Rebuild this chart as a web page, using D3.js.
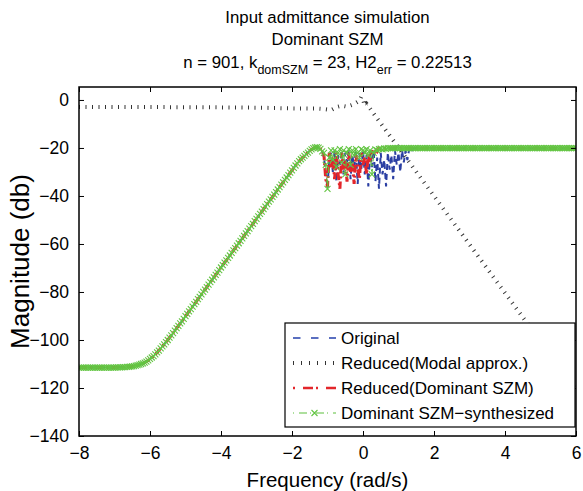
<!DOCTYPE html>
<html lang="en">
  <head>
    <meta charset="UTF-8" />
    <title>Input admittance simulation</title>
    <script src="https://cdn.jsdelivr.net/npm/d3@7"></script>
    <style>
      body { margin: 0; background: #fff; }
      svg { font-family: "Liberation Sans", Arial, sans-serif; }
    </style>
  </head>
  <body>
    <script>
      // frequency grid: log10(w) from -8 to 6, step 0.05 (281 samples)
      const freq = d3.range(0, 281).map(i => -8 + i * 0.05);

      // shared response, -8 ... -1.15
      const magLow = [
        -111.5, -111.5, -111.5, -111.5, -111.5, -111.5, -111.5, -111.5, -111.5, -111.5,
        -111.5, -111.5, -111.5, -111.5, -111.5, -111.5, -111.5, -111.5, -111.5, -111.5,
        -111.5,
        -111.4, -111.4, -111.4, -111.4, -111.3, -111.3, -111.2, -111.2, -111.1, -111.0,
        -110.9, -110.7, -110.5, -110.3, -110.0, -109.7, -109.4, -109.0, -108.5,
        -107.9, -107.3, -106.7, -106.0, -105.2, -104.4, -103.5, -102.7, -101.8, -100.9,
        -100.0, -99.0, -98.1, -97.1, -96.1, -95.1, -94.1, -93.1, -92.2, -91.2,
        -90.1, -89.1, -88.1, -87.1, -86.1, -85.1, -84.1, -83.0, -82.0, -81.0,
        -80.0, -79.0, -78.0, -76.9, -75.9, -74.9, -73.9, -72.9, -71.9, -70.9,
        -69.8, -68.8, -67.8, -66.8, -65.8, -64.8, -63.7, -62.7, -61.7, -60.7,
        -59.7, -58.7, -57.7, -56.6, -55.6, -54.6, -53.6, -52.6, -51.6, -50.5,
        -49.5, -48.5, -47.5, -46.5, -45.5, -44.4, -43.4, -42.4, -41.4, -40.4,
        -39.4, -38.4, -37.3, -36.3, -35.3, -34.3, -33.3, -32.3, -31.3, -30.3,
        -29.3, -28.3, -27.3, -26.4, -25.5, -24.7, -24.0, -23.3, -22.6, -21.9,
        -21.2, -20.6, -20.1, -19.8, -19.7, -19.9, -20.4, -21.4
      ];

      // noisy band, -1.1 ... 1.4
      const magOrigMid = [
        -24, -30, -37, -24, -22, -30, -21, -34, -23, -27,
        -21, -31, -22, -26, -21, -33, -23, -28, -21, -35,
        -22, -29, -21, -31, -23, -36, -22, -28, -21, -34,
        -24, -37, -22, -31, -25, -36, -22, -29, -23, -33,
        -21, -27, -22, -30, -21, -26, -21, -25, -20.5, -22,
        -20.3
      ];
      const magSzmMid = [
        -23, -33, -36, -22, -28, -24, -33, -22, -31, -37,
        -22, -29, -25, -34, -22, -30, -26, -35, -23, -28,
        -33, -22, -27, -24, -31, -22, -26, -21, -23, -20.5,
        -21.5, -20.3, -20.2, -20.2, -20.1, -20.1, -20.1, -20.1, -20.1, -20.1,
        -20.1, -20.1, -20.1, -20.1, -20.1, -20.1, -20.1, -20.1, -20.1, -20.1,
        -20.1
      ];
      const magSynthMid = [
        -22, -27, -37, -24, -21, -25, -21, -28, -22, -20.5,
        -26, -21, -31, -22, -20.5, -27, -21, -23, -20.5, -22,
        -24, -20.5, -21, -22, -20.5, -23, -21, -31, -22, -20.6,
        -21, -20.5, -20.3, -20.6, -20.2, -20.4, -20.1, -20.1, -20.1, -20.1,
        -20.1, -20.1, -20.1, -20.1, -20.1, -20.1, -20.1, -20.1, -20.1, -20.1,
        -20.1
      ];

      // shared response, 1.45 ... 6
      const magHigh = [
        -20.1, -20.1, -20.1, -20.1, -20.1, -20.1, -20.1, -20.1, -20.1, -20.1,
        -20.1, -20.1, -20.1, -20.1, -20.1, -20.1, -20.1, -20.1, -20.1, -20.1,
        -20.1, -20.1, -20.1, -20.1, -20.1, -20.1, -20.1, -20.1, -20.1, -20.1,
        -20.1, -20.1, -20.1, -20.1, -20.1, -20.1, -20.1, -20.1, -20.1, -20.1,
        -20.1, -20.1, -20.1, -20.1, -20.1, -20.1, -20.1, -20.1, -20.1, -20.1,
        -20.1, -20.1, -20.1, -20.1, -20.1, -20.1, -20.1, -20.1, -20.1, -20.1,
        -20.1, -20.1, -20.1, -20.1, -20.1, -20.1, -20.1, -20.1, -20.1, -20.1,
        -20.1, -20.1, -20.1, -20.1, -20.1, -20.1, -20.1, -20.1, -20.1, -20.1,
        -20.1, -20.1, -20.1, -20.1, -20.1, -20.1, -20.1, -20.1, -20.1, -20.1,
        -20.1, -20.1
      ];

      // modal approximation
      const modalFreq = [-8, -5, -3, -2, -1.3, -1.1, -0.9, -0.75, -0.6, -0.45, -0.3, -0.2, -0.1, -0.05, 0, 0.05, 0.1, 0.2, 0.4, 6];
      const modalMag = [-2.9, -3.0, -3.2, -3.5, -3.6, -3.8, -4.2, -3.0, -2.4, -2.8, -2.0, -1.2, -0.3, 1.3, 0.2, -2.4, -1.6, -3.6, -7.7, -120.8];

      const seriesNames = [
        "Original",
        "Reduced(Modal approx.)",
        "Reduced(Dominant SZM)",
        "Dominant SZM\u2212synthesized"
      ];
      const xTicks = [-8, -6, -4, -2, 0, 2, 4, 6];
      const yTicks = [-140, -120, -100, -80, -60, -40, -20, 0];

      const width = 583;
      const height = 491;
      const margin = { left: 79, right: 7, top: 87, bottom: 55 };

      const x = d3.scaleLinear().domain([-8, 6]).range([margin.left, width - margin.right]);
      const y = d3.scaleLinear().domain([-140, 5.4]).range([height - margin.bottom, margin.top]);

      const toPts = (xs, ys) => xs.map((v, i) => [v, ys[i]]);
      const original = toPts(freq, magLow.concat(magOrigMid, magHigh));
      const reducedSzm = toPts(freq, magLow.concat(magSzmMid, magHigh));
      const synth = toPts(freq, magLow.concat(magSynthMid, magHigh));
      const modal = toPts(modalFreq, modalMag);

      const svg = d3.select("body").append("svg")
        .attr("width", width)
        .attr("height", height);

      svg.append("defs").append("clipPath").attr("id", "clip")
        .append("rect")
        .attr("x", margin.left).attr("y", margin.top)
        .attr("width", x(6) - x(-8)).attr("height", y(-140) - y(5.4));

      const line = d3.line().x(d => x(d[0])).y(d => y(d[1]));
      const plot = svg.append("g").attr("clip-path", "url(#clip)");

      plot.append("path").datum(original)
        .attr("d", line).attr("fill", "none")
        .attr("stroke", "#2b3fa3").attr("stroke-width", 2)
        .attr("stroke-dasharray", "6,4");

      plot.append("path").datum(modal)
        .attr("d", line).attr("fill", "none")
        .attr("stroke", "#333").attr("stroke-width", 4)
        .attr("stroke-dasharray", "1,5.5");

      plot.append("path").datum(reducedSzm)
        .attr("d", line).attr("fill", "none")
        .attr("stroke", "#e3262b").attr("stroke-width", 3)
        .attr("stroke-dasharray", "8,3,2,3");

      plot.append("path").datum(synth)
        .attr("d", line).attr("fill", "none")
        .attr("stroke", "#5cbf3c").attr("stroke-width", 1.2)
        .attr("stroke-dasharray", "6,3,1.5,3");

      const xMark = "M-3,-3L3,3M-3,3L3,-3";
      plot.append("g").selectAll("path")
        .data(synth)
        .join("path")
        .attr("transform", d => `translate(${x(d[0])},${y(d[1])})`)
        .attr("d", xMark)
        .attr("fill", "none")
        .attr("stroke", "#63c543")
        .attr("stroke-width", 1.1);

      // axes box with inward ticks on all sides
      const tickLen = 5;
      const fmt = d => d < 0 ? "\u2212" + Math.abs(d) : d;
      svg.append("g")
        .attr("transform", `translate(0,${y(-140)})`)
        .call(d3.axisBottom(x).tickValues(xTicks).tickSizeInner(-tickLen).tickSizeOuter(0)
          .tickPadding(11).tickFormat(fmt))
        .call(g => g.select(".domain").remove())
        .call(g => g.selectAll("text").attr("font-size", 17.5).attr("fill", "#000").attr("font-family", null));
      svg.append("g")
        .attr("transform", `translate(0,${y(5.4)})`)
        .call(d3.axisTop(x).tickValues(xTicks).tickSizeInner(-tickLen).tickSizeOuter(0).tickFormat(""))
        .call(g => g.select(".domain").remove());
      svg.append("g")
        .attr("transform", `translate(${x(-8)},0)`)
        .call(d3.axisLeft(y).tickValues(yTicks).tickSizeInner(-tickLen).tickSizeOuter(0)
          .tickPadding(10).tickFormat(fmt))
        .call(g => g.select(".domain").remove())
        .call(g => g.selectAll("text").attr("font-size", 17.5).attr("fill", "#000").attr("font-family", null));
      svg.append("g")
        .attr("transform", `translate(${x(6)},0)`)
        .call(d3.axisRight(y).tickValues(yTicks).tickSizeInner(-tickLen).tickSizeOuter(0).tickFormat(""))
        .call(g => g.select(".domain").remove());

      svg.append("rect")
        .attr("x", x(-8)).attr("y", y(5.4))
        .attr("width", x(6) - x(-8)).attr("height", y(-140) - y(5.4))
        .attr("fill", "none").attr("stroke", "#000").attr("stroke-width", 1.5);

      // titles
      const cx = (x(-8) + x(6)) / 2;
      svg.append("text").attr("x", cx).attr("y", 23).attr("text-anchor", "middle")
        .attr("font-size", 16.8).text("Input admittance simulation");
      svg.append("text").attr("x", cx).attr("y", 45).attr("text-anchor", "middle")
        .attr("font-size", 16.8).text("Dominant SZM");
      const t3 = svg.append("text").attr("x", cx).attr("y", 68).attr("text-anchor", "middle")
        .attr("font-size", 16.8);
      t3.append("tspan").text("n = 901, k");
      t3.append("tspan").attr("dy", 6).attr("font-size", 12.5).text("domSZM");
      t3.append("tspan").attr("dy", -6).text(" = 23, H2");
      t3.append("tspan").attr("dy", 6).attr("font-size", 12.5).text("err");
      t3.append("tspan").attr("dy", -6).text(" = 0.22513");

      svg.append("text").attr("x", cx).attr("y", 487).attr("text-anchor", "middle")
        .attr("font-size", 20.5).text("Frequency (rad/s)");
      svg.append("text")
        .attr("transform", `translate(29,${(y(-140) + y(5.4)) / 2}) rotate(-90)`)
        .attr("text-anchor", "middle")
        .attr("font-size", 26).text("Magnitude (db)");

      // legend
      const legend = svg.append("g").attr("id", "legend");
      legend.append("rect")
        .attr("x", 285).attr("y", 323).attr("width", 290).attr("height", 104)
        .attr("fill", "#fff").attr("stroke", "#000").attr("stroke-width", 1.2);
      const legStyles = [
        { color: "#5a6fc0", w: 2, dash: "7.5,10.5" },
        { color: "#333", w: 4, dash: "1,7" },
        { color: "#e3262b", w: 2.5, dash: "2,8,10,3" },
        { color: "#5cbf3c", w: 1.2, dash: "1,5,8,3" }
      ];
      seriesNames.forEach((name, i) => {
        const ry = 338 + i * 25;
        legend.append("line")
          .attr("x1", 293).attr("x2", 336).attr("y1", ry).attr("y2", ry)
          .attr("stroke", legStyles[i].color).attr("stroke-width", legStyles[i].w)
          .attr("stroke-dasharray", legStyles[i].dash);
        if (i === 3) {
          legend.append("path")
            .attr("transform", `translate(${314.5},${ry})`)
            .attr("d", xMark).attr("fill", "none")
            .attr("stroke", "#63c543").attr("stroke-width", 1.1);
        }
        legend.append("text")
          .attr("x", 341).attr("y", ry + 6)
          .attr("font-size", 17).text(name);
      });
    </script>
  </body>
</html>
